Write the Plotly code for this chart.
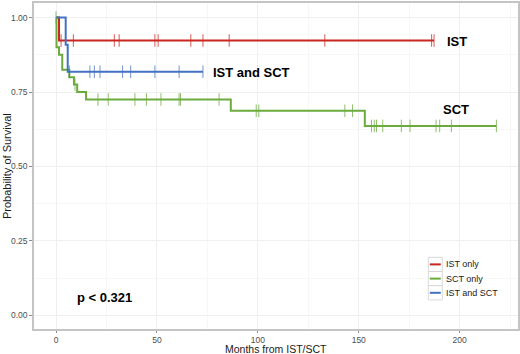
import numpy as np
import plotly.graph_objects as go

# ---- data ----
ist_times = [0, 1.5, 187.3]
ist_surv = [1.0, 0.923, 0.923]
ist_censor = [2.5, 8.6, 28.9, 31.3, 49.0, 50.6, 66.8, 72.8, 85.8, 133.2, 186.1, 187.3]

sct_times = [0, 0.25, 1.5, 3.1, 6.6, 8.9, 10.5, 14.9, 86.6, 153.0, 218.2]
sct_surv = [1.0, 0.900, 0.875, 0.825, 0.800, 0.775, 0.750, 0.725, 0.687, 0.636, 0.636]
sct_censor = [0, 9.4, 20.8, 25.9, 39.1, 44.8, 52.0, 61.0, 61.7, 80.8,
              99.2, 100.5, 143.1, 146.9,
              156.3, 157.7, 158.8, 161.9, 171.1, 175.4, 188.3, 190.1, 195.9, 218.2]

both_times = [0, 4.8, 5.8, 72.8]
both_surv = [1.0, 0.909, 0.818, 0.818]
both_censor = [6.6, 16.8, 19.0, 21.8, 33.0, 37.0, 49.0, 61.0, 72.8]

group_names = ["IST only", "SCT only", "IST and SCT"]
colors = ["#C9271F", "#6BAB3E", "#4372C2"]

label_text = ["IST", "IST and SCT", "SCT"]
label_x = [198.8, 97.0, 198.0]
label_y = [0.921, 0.817, 0.691]
p_text = "p < 0.321"
p_x, p_y = 24.0, 0.06

x_ticks = [0, 50, 100, 150, 200]
y_ticks = [0.00, 0.25, 0.50, 0.75, 1.00]
y_tick_labels = ["0.00", "0.25", "0.50", "0.75", "1.00"]

W, H = 520, 354
ML, MR, MT, MB = 34, 2, 3, 25
PW, PH = W - ML - MR, H - MT - MB


def px_x(p):
    return (p - ML) / PW


def px_y(p):
    return (H - MB - p) / PH


def step_value(times, surv, t):
    idx = np.searchsorted(np.array(times), t, side="right") - 1
    idx = max(idx, 0)
    return surv[idx]


fig = go.Figure()
groups = [(ist_times, ist_surv, ist_censor),
          (sct_times, sct_surv, sct_censor),
          (both_times, both_surv, both_censor)]

for (t, s, c), name, col in zip(groups, group_names, colors):
    fig.add_trace(go.Scatter(x=t, y=s, mode="lines", line=dict(color=col, width=2, shape="hv"),
                             name=name, showlegend=False))
for (t, s, c), name, col in zip(groups, group_names, colors):
    cy = [step_value(t, s, ci) for ci in c]
    fig.add_trace(go.Scatter(x=c, y=cy, mode="markers",
                             marker=dict(symbol="line-ns", size=9, line=dict(color=col, width=1), opacity=0.75),
                             showlegend=False, hoverinfo="skip"))

for txt, lx, ly in zip(label_text, label_x, label_y):
    fig.add_annotation(x=lx, y=ly, text="<b>" + txt + "</b>", showarrow=False,
                       font=dict(family="Liberation Sans, Arial", size=13, color="black"))
fig.add_annotation(x=p_x, y=p_y, text="<b>" + p_text + "</b>", showarrow=False,
                   font=dict(family="Liberation Sans, Arial", size=13, color="black"))

# axis titles
fig.add_annotation(xref="paper", yref="paper", x=px_x(276), y=px_y(348.5), text="Months from IST/SCT",
                   showarrow=False, font=dict(size=10.5, color="#1A1A1A"), xanchor="center", yanchor="middle")
fig.add_annotation(xref="paper", yref="paper", x=px_x(7), y=px_y(166), text="Probability of Survival",
                   textangle=-90, showarrow=False, font=dict(size=11, color="#1A1A1A"),
                   xanchor="center", yanchor="middle")

# legend (drawn as keys + labels)
row_h = 14.2
top = 257.3
for i, (name, col) in enumerate(zip(group_names, colors)):
    y0 = top + i * row_h
    y1 = y0 + row_h
    fig.add_shape(type="rect", xref="paper", yref="paper",
                  x0=px_x(428.3), x1=px_x(442.3), y0=px_y(y1), y1=px_y(y0),
                  line=dict(color="#D0D0D0", width=0.8), fillcolor="white")
    ym = px_y((y0 + y1) / 2)
    fig.add_shape(type="line", xref="paper", yref="paper",
                  x0=px_x(429.8), x1=px_x(440.8), y0=ym, y1=ym,
                  line=dict(color=col, width=2))
    fig.add_annotation(xref="paper", yref="paper", x=px_x(444.3), y=ym, text=name,
                       showarrow=False, xanchor="left", yanchor="middle",
                       font=dict(size=9, color="#1A1A1A"))

fig.update_layout(
    width=W, height=H,
    margin=dict(l=ML, r=MR, t=MT, b=MB),
    paper_bgcolor="white", plot_bgcolor="white",
    font=dict(family="Liberation Sans, Arial", color="#4D4D4D"),
    showlegend=False,
)
fig.update_xaxes(
    range=[-10.9, 228.9], tickvals=x_ticks, ticks="outside", ticklen=2, tickcolor="#8C8C8C",
    tickfont=dict(size=8.5, color="#4D4D4D"), automargin=False,
    showgrid=True, gridcolor="#EFEFEF", gridwidth=1,
    minor=dict(tickvals=[25, 75, 125, 175, 225], showgrid=True, gridcolor="#F7F7F7", gridwidth=0.5),
    showline=True, mirror=True, linecolor="#C4C4C4", linewidth=1.5, zeroline=False,
)
fig.update_yaxes(
    range=[-0.046, 1.049], tickvals=y_ticks, ticktext=y_tick_labels, ticks="outside", ticklen=3,
    tickcolor="#8C8C8C", tickfont=dict(size=8.5, color="#4D4D4D"), automargin=False,
    showgrid=True, gridcolor="#EFEFEF", gridwidth=1,
    minor=dict(tickvals=[0.125, 0.375, 0.625, 0.875], showgrid=True, gridcolor="#F7F7F7", gridwidth=0.5),
    showline=True, mirror=True, linecolor="#C4C4C4", linewidth=1.5, zeroline=False,
)

fig.write_html("out.html", config={"displayModeBar": False},
               post_script="document.body.style.margin='0px';")
